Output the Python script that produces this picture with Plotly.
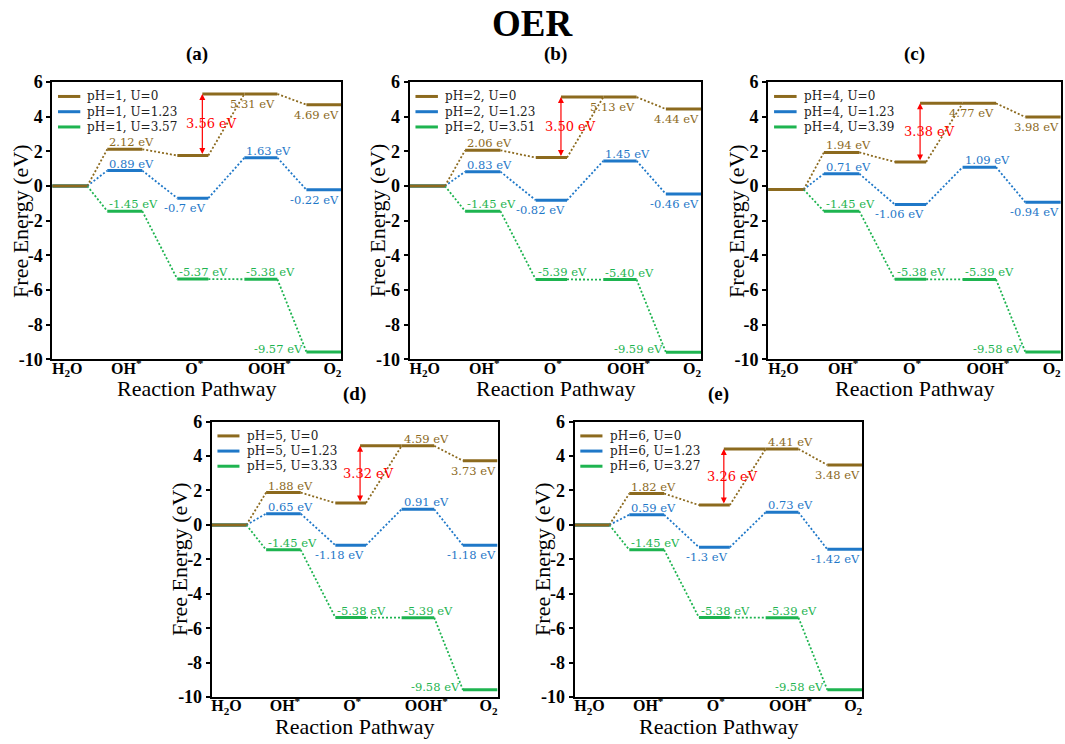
import plotly.graph_objects as go

# ---------------- data ----------------
states = ["H<sub>2</sub>O", "OH<sup>*</sup>", "O<sup>*</sup>", "OOH<sup>*</sup>", "O<sub>2</sub>"]
panel_tags = ["(a)", "(b)", "(c)", "(d)", "(e)"]
ph_values = ["1", "2", "4", "5", "6"]
u_onset = ["3.57", "3.51", "3.39", "3.33", "3.27"]
y_ticks = [-10, -8, -6, -4, -2, 0, 2, 4, 6]
y_tick_text = ["-10", "-8", "-6", "-4", "-2", "0", "2", "4", "6"]

# free energies (eV) for H2O, OH*, O*, OOH*, O2
g_u0 = [
    [0.00, 2.12, 1.76, 5.31, 4.69],
    [0.00, 2.06, 1.64, 5.13, 4.44],
    [-0.20, 1.94, 1.39, 4.77, 3.98],
    [0.00, 1.88, 1.27, 4.59, 3.73],
    [0.00, 1.82, 1.15, 4.41, 3.48],
]
g_u123 = [
    [0.00, 0.89, -0.70, 1.63, -0.22],
    [0.00, 0.83, -0.82, 1.45, -0.46],
    [-0.20, 0.71, -1.06, 1.09, -0.94],
    [0.00, 0.65, -1.18, 0.91, -1.18],
    [0.00, 0.59, -1.30, 0.73, -1.42],
]
g_uon = [
    [0.00, -1.45, -5.37, -5.38, -9.57],
    [0.00, -1.45, -5.39, -5.40, -9.59],
    [-0.20, -1.45, -5.38, -5.39, -9.58],
    [0.00, -1.45, -5.38, -5.39, -9.58],
    [0.00, -1.45, -5.38, -5.39, -9.58],
]
# value labels as printed in the figure
lab_u0 = [
    [None, "2.12", None, "5.31", "4.69"],
    [None, "2.06", None, "5.13", "4.44"],
    [None, "1.94", None, "4.77", "3.98"],
    [None, "1.88", None, "4.59", "3.73"],
    [None, "1.82", None, "4.41", "3.48"],
]
lab_u123 = [
    [None, "0.89", "-0.7", "1.63", "-0.22"],
    [None, "0.83", "-0.82", "1.45", "-0.46"],
    [None, "0.71", "-1.06", "1.09", "-0.94"],
    [None, "0.65", "-1.18", "0.91", "-1.18"],
    [None, "0.59", "-1.3", "0.73", "-1.42"],
]
lab_uon = [
    [None, "-1.45", "-5.37", "-5.38", "-9.57"],
    [None, "-1.45", "-5.39", "-5.40", "-9.59"],
    [None, "-1.45", "-5.38", "-5.39", "-9.58"],
    [None, "-1.45", "-5.38", "-5.39", "-9.58"],
    [None, "-1.45", "-5.38", "-5.39", "-9.58"],
]
gap_text = ["3.56", "3.50", "3.38", "3.32", "3.26"]

# ---------------- layout / style ----------------
BROWN = "#8C6A1E"
BLUE = "#1F78C8"
GREEN = "#1EB450"
RED = "#FF0000"
SERIF = "Liberation Serif"
LSERIF = "DejaVu Serif"

X_RANGE = [0, 289]
lvl_start = [0, 55, 125, 192, 254]
lvl_end = [35, 90, 156, 225, 289]
tick_pos = [15, 74, 142, 217, 280]
arrow_x = 150

place_u0 = [
    [None, "above", None, "below", "below"],
    [None, "above", None, "below", "below"],
    [None, "above", None, "below", "below"],
    [None, "above", None, "above", "below"],
    [None, "above", None, "above", "below"],
]
place_u123 = [None, "above", "below", "above", "below"]
place_uon = [None, "above", "above", "above", "left"]

dom_x = [[0.0491, 0.3209], [0.385, 0.659], [0.722, 0.997], [0.199, 0.4676], [0.540, 0.8103]]
dom_y = [[0.5175, 0.9005]] * 3 + [[0.051, 0.4315]] * 2

fig = go.Figure()
annotations = []
shapes = []


def label_ann(text, place, i, v, col, xa, ya):
    base = dict(y=v, xref=xa, yref=ya, text=text + " eV", showarrow=False,
                font=dict(family=LSERIF, size=11.5, color=col))
    if place == "above":
        base.update(x=lvl_start[i], xanchor="left", yanchor="bottom", yshift=-2)
    elif place == "below":
        base.update(x=lvl_end[i], xanchor="right", yanchor="top", yshift=-1)
    else:
        base.update(x=lvl_start[i] - 1, xanchor="right", yanchor="middle", yshift=3)
    return base


for p in range(5):
    xa = "x" if p == 0 else f"x{p + 1}"
    ya = "y" if p == 0 else f"y{p + 1}"
    series = [
        (g_uon[p], GREEN, lab_uon[p], place_uon),
        (g_u123[p], BLUE, lab_u123[p], place_u123),
        (g_u0[p], BROWN, lab_u0[p], place_u0[p]),
    ]
    # dotted connectors
    for vals, col, _, _ in series:
        cx, cy = [], []
        for i in range(4):
            cx += [lvl_end[i], lvl_start[i + 1], None]
            cy += [vals[i], vals[i + 1], None]
        fig.add_trace(go.Scatter(x=cx, y=cy, mode="lines", xaxis=xa, yaxis=ya,
                                 line=dict(color=col, width=1.8, dash="2px,2px"),
                                 hoverinfo="skip", showlegend=False))
    # levels
    for vals, col, labs, places in series:
        lx, ly = [], []
        for i in range(5):
            lx += [lvl_start[i], lvl_end[i], None]
            ly += [vals[i], vals[i], None]
        fig.add_trace(go.Scatter(x=lx, y=ly, mode="lines", xaxis=xa, yaxis=ya,
                                 line=dict(color=col, width=3),
                                 hoverinfo="skip", showlegend=False))
        for i in range(5):
            if labs[i] is not None and places[i] is not None:
                annotations.append(label_ann(labs[i], places[i], i, vals[i], col, xa, ya))
    # brown reference line at OOH* level extending to the arrow
    top = g_u0[p][3]
    bot = g_u0[p][2]
    fig.add_trace(go.Scatter(x=[arrow_x, lvl_start[3]], y=[top, top], mode="lines",
                             xaxis=xa, yaxis=ya, line=dict(color=BROWN, width=3),
                             hoverinfo="skip", showlegend=False))
    # double arrow
    annotations.append(dict(x=arrow_x, y=top, ax=arrow_x, ay=bot, xref=xa, yref=ya,
                            axref=xa, ayref=ya, text="", showarrow=True,
                            arrowhead=2, startarrowhead=2, arrowside="end+start",
                            arrowsize=1, startarrowsize=1, arrowwidth=1.2,
                            arrowcolor=RED, standoff=0, startstandoff=0))
    annotations.append(dict(x=arrow_x + 9, y=(top + bot) / 2 + 0.05, xref=xa, yref=ya,
                            text=gap_text[p] + " eV", showarrow=False,
                            xanchor="center", yanchor="middle",
                            font=dict(family=LSERIF, size=13, color=RED)))
    # panel tag
    annotations.append(dict(x=0.5, y=1, xref=f"{xa} domain", yref=f"{ya} domain",
                            xanchor="center", yanchor="bottom", yshift=15,
                            text=panel_tags[p], showarrow=False,
                            font=dict(family=SERIF, size=19, color="black", weight="bold")))
    # axis titles
    annotations.append(dict(x=0, y=0.5, xref=f"{xa} domain", yref=f"{ya} domain",
                            xanchor="center", yanchor="middle", xshift=-32, textangle=-90,
                            text="Free Energy (eV)", showarrow=False,
                            font=dict(family=SERIF, size=22, color="black")))
    annotations.append(dict(x=0.5, y=0, xref=f"{xa} domain", yref=f"{ya} domain",
                            xanchor="center", yanchor="middle", yshift=-29,
                            text="Reaction Pathway", showarrow=False,
                            font=dict(family=SERIF, size=22, color="black")))
    # manual legend
    leg_items = [
        (BROWN, f"pH={ph_values[p]}, U=0"),
        (BLUE, f"pH={ph_values[p]}, U=1.23"),
        (GREEN, f"pH={ph_values[p]}, U={u_onset[p]}"),
    ]
    leg_y = [0.948, 0.893, 0.838]
    for (col, txt), yy in zip(leg_items, leg_y):
        shapes.append(dict(type="line", xref=f"{xa} domain", yref=f"{ya} domain",
                           x0=0.02, x1=0.097, y0=yy, y1=yy,
                           line=dict(color=col, width=3)))
        annotations.append(dict(x=0.115, y=yy, xref=f"{xa} domain", yref=f"{ya} domain",
                                xanchor="left", yanchor="middle", text=txt, showarrow=False,
                                font=dict(family=LSERIF, size=12, color="#222222")))

    ax_key = "xaxis" if p == 0 else f"xaxis{p + 1}"
    ay_key = "yaxis" if p == 0 else f"yaxis{p + 1}"
    fig.layout[ax_key] = dict(
        domain=dom_x[p], range=X_RANGE, anchor=ya, showline=True, mirror=True,
        linecolor="black", linewidth=2, showgrid=False, zeroline=False,
        tickmode="array", tickvals=tick_pos, ticktext=states, ticks="",
        ticklabelstandoff=-7,
        tickfont=dict(family=SERIF, size=16, color="black", weight="bold"),
        fixedrange=True,
    )
    fig.layout[ay_key] = dict(
        domain=dom_y[p], range=[-10, 6], anchor=xa, showline=True, mirror=True,
        linecolor="black", linewidth=2, showgrid=False, zeroline=False,
        tickmode="array", tickvals=y_ticks, ticktext=y_tick_text,
        ticks="outside", ticklen=4, tickwidth=1.5, tickcolor="black",
        tickfont=dict(family=SERIF, size=18, color="black", weight="bold"),
        fixedrange=True,
    )

annotations.append(dict(x=0.5, y=0.981, xref="paper", yref="paper", xanchor="center",
                        yanchor="middle", text="OER", showarrow=False,
                        font=dict(family=SERIF, size=37, color="black", weight="bold")))

fig.update_layout(
    width=1065, height=744,
    margin=dict(l=0, r=0, t=0, b=0),
    paper_bgcolor="white", plot_bgcolor="white",
    annotations=annotations, shapes=shapes,
    showlegend=False,
)

fig.write_html("out.html")
